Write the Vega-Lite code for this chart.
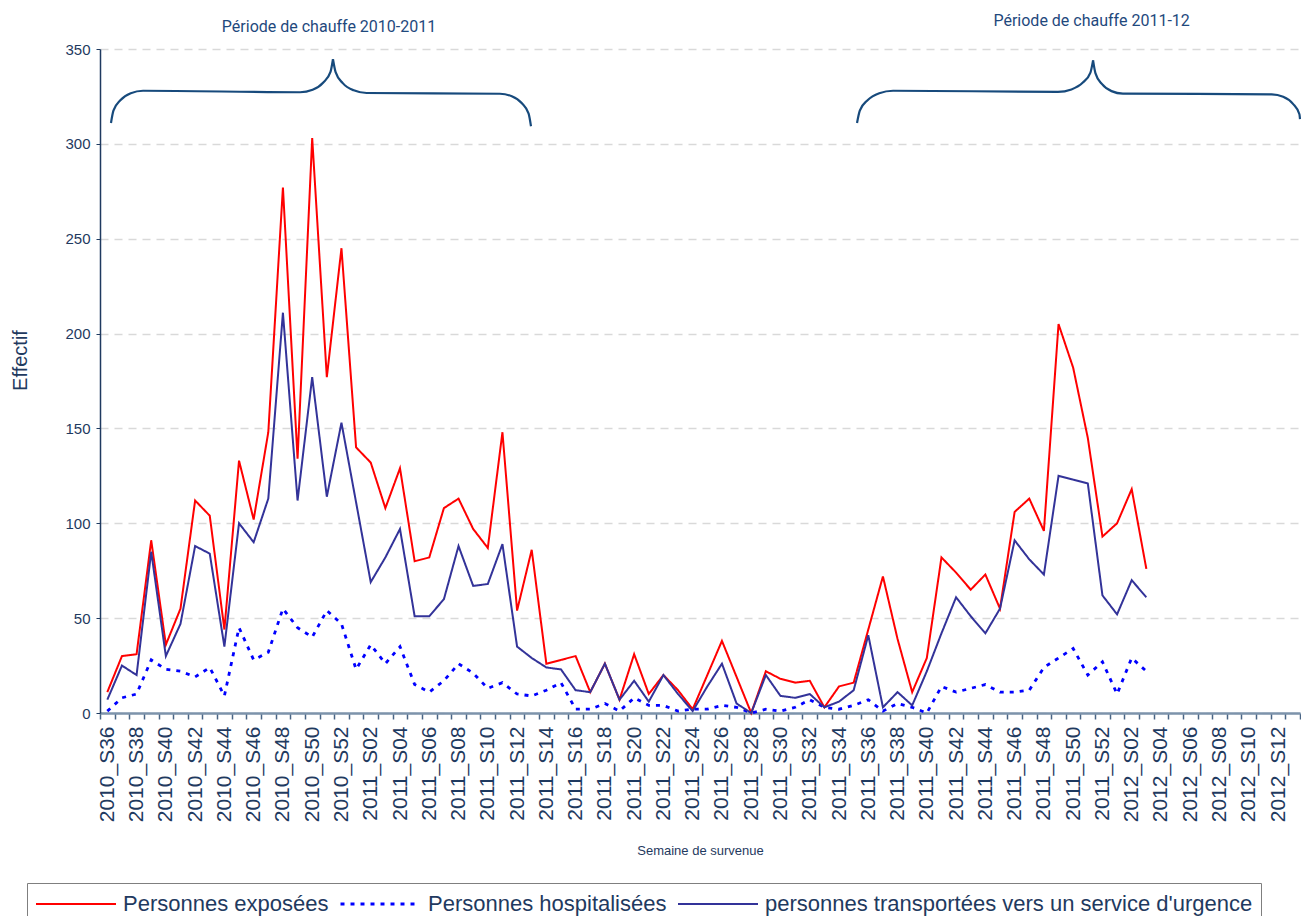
{
  "$schema": "https://vega.github.io/schema/vega-lite/v6.json",
  "width": 1200,
  "height": 664,
  "autosize": {"type": "none"},
  "padding": {"left": 100, "top": 49, "right": 1, "bottom": 203},
  "background": "white",
  "config": {"view": {"stroke": null}, "font": "Liberation Sans"},
  "resolve": {"scale": {"x": "independent"}},
  "layer": [
    {
      "data": {"values": [
        {"semaine":"2010_S36","E":11,"H":1,"T":7},
        {"semaine":"2010_S37","E":30,"H":8,"T":25},
        {"semaine":"2010_S38","E":31,"H":10,"T":20},
        {"semaine":"2010_S39","E":91,"H":28,"T":85},
        {"semaine":"2010_S40","E":36,"H":23,"T":30},
        {"semaine":"2010_S41","E":55,"H":22,"T":47},
        {"semaine":"2010_S42","E":112,"H":19,"T":88},
        {"semaine":"2010_S43","E":104,"H":24,"T":84},
        {"semaine":"2010_S44","E":44,"H":9,"T":35},
        {"semaine":"2010_S45","E":133,"H":45,"T":100},
        {"semaine":"2010_S46","E":102,"H":28,"T":90},
        {"semaine":"2010_S47","E":148,"H":32,"T":113},
        {"semaine":"2010_S48","E":277,"H":55,"T":211},
        {"semaine":"2010_S49","E":134,"H":45,"T":112},
        {"semaine":"2010_S50","E":303,"H":40,"T":177},
        {"semaine":"2010_S51","E":177,"H":54,"T":114},
        {"semaine":"2010_S52","E":245,"H":47,"T":153},
        {"semaine":"2011_S01","E":140,"H":23,"T":111},
        {"semaine":"2011_S02","E":132,"H":36,"T":69},
        {"semaine":"2011_S03","E":108,"H":26,"T":82},
        {"semaine":"2011_S04","E":129,"H":35,"T":97},
        {"semaine":"2011_S05","E":80,"H":15,"T":51},
        {"semaine":"2011_S06","E":82,"H":11,"T":51},
        {"semaine":"2011_S07","E":108,"H":17,"T":60},
        {"semaine":"2011_S08","E":113,"H":26,"T":88},
        {"semaine":"2011_S09","E":97,"H":21,"T":67},
        {"semaine":"2011_S10","E":87,"H":13,"T":68},
        {"semaine":"2011_S11","E":148,"H":16,"T":89},
        {"semaine":"2011_S12","E":54,"H":10,"T":35},
        {"semaine":"2011_S13","E":86,"H":9,"T":29},
        {"semaine":"2011_S14","E":26,"H":12,"T":24},
        {"semaine":"2011_S15","E":28,"H":16,"T":23},
        {"semaine":"2011_S16","E":30,"H":2,"T":12},
        {"semaine":"2011_S17","E":11,"H":2,"T":11},
        {"semaine":"2011_S18","E":26,"H":5,"T":26},
        {"semaine":"2011_S19","E":7,"H":1,"T":7},
        {"semaine":"2011_S20","E":31,"H":8,"T":17},
        {"semaine":"2011_S21","E":10,"H":4,"T":6},
        {"semaine":"2011_S22","E":20,"H":4,"T":20},
        {"semaine":"2011_S23","E":12,"H":1,"T":10},
        {"semaine":"2011_S24","E":2,"H":2,"T":1},
        {"semaine":"2011_S25","E":20,"H":2,"T":14},
        {"semaine":"2011_S26","E":38,"H":4,"T":26},
        {"semaine":"2011_S27","E":19,"H":3,"T":5},
        {"semaine":"2011_S28","E":0,"H":0,"T":0},
        {"semaine":"2011_S29","E":22,"H":2,"T":20},
        {"semaine":"2011_S30","E":18,"H":1,"T":9},
        {"semaine":"2011_S31","E":16,"H":3,"T":8},
        {"semaine":"2011_S32","E":17,"H":7,"T":10},
        {"semaine":"2011_S33","E":3,"H":3,"T":3},
        {"semaine":"2011_S34","E":14,"H":2,"T":6},
        {"semaine":"2011_S35","E":16,"H":4,"T":12},
        {"semaine":"2011_S36","E":44,"H":7,"T":41},
        {"semaine":"2011_S37","E":72,"H":1,"T":3},
        {"semaine":"2011_S38","E":39,"H":5,"T":11},
        {"semaine":"2011_S39","E":11,"H":3,"T":4},
        {"semaine":"2011_S40","E":29,"H":0,"T":22},
        {"semaine":"2011_S41","E":82,"H":14,"T":42},
        {"semaine":"2011_S42","E":74,"H":11,"T":61},
        {"semaine":"2011_S43","E":65,"H":13,"T":51},
        {"semaine":"2011_S44","E":73,"H":15,"T":42},
        {"semaine":"2011_S45","E":55,"H":11,"T":55},
        {"semaine":"2011_S46","E":106,"H":11,"T":91},
        {"semaine":"2011_S47","E":113,"H":12,"T":81},
        {"semaine":"2011_S48","E":96,"H":24,"T":73},
        {"semaine":"2011_S49","E":205,"H":29,"T":125},
        {"semaine":"2011_S50","E":182,"H":34,"T":123},
        {"semaine":"2011_S51","E":145,"H":20,"T":121},
        {"semaine":"2011_S52","E":93,"H":27,"T":62},
        {"semaine":"2012_S01","E":100,"H":10,"T":52},
        {"semaine":"2012_S02","E":118,"H":29,"T":70},
        {"semaine":"2012_S03","E":76,"H":22,"T":61}
      ]},
      "transform": [{"fold": ["E", "H", "T"], "as": ["serie", "effectif"]}],
      "mark": {"type": "line"},
      "encoding": {
        "x": {
          "field": "semaine", "type": "ordinal", "bandPosition": 0.5,
          "scale": {"type": "band", "paddingInner": 0, "paddingOuter": 0,
            "domain": ["2010_S36","2010_S37","2010_S38","2010_S39","2010_S40","2010_S41","2010_S42","2010_S43","2010_S44","2010_S45","2010_S46","2010_S47","2010_S48","2010_S49","2010_S50","2010_S51","2010_S52",
              "2011_S01","2011_S02","2011_S03","2011_S04","2011_S05","2011_S06","2011_S07","2011_S08","2011_S09","2011_S10","2011_S11","2011_S12","2011_S13","2011_S14","2011_S15","2011_S16","2011_S17","2011_S18","2011_S19","2011_S20","2011_S21","2011_S22","2011_S23","2011_S24","2011_S25","2011_S26","2011_S27","2011_S28","2011_S29","2011_S30","2011_S31","2011_S32","2011_S33","2011_S34","2011_S35","2011_S36","2011_S37","2011_S38","2011_S39","2011_S40","2011_S41","2011_S42","2011_S43","2011_S44","2011_S45","2011_S46","2011_S47","2011_S48","2011_S49","2011_S50","2011_S51","2011_S52",
              "2012_S01","2012_S02","2012_S03","2012_S04","2012_S05","2012_S06","2012_S07","2012_S08","2012_S09","2012_S10","2012_S11","2012_S12","2012_S13"]},
          "axis": {
            "title": "Semaine de survenue", "titleFontSize": 13, "titleFontWeight": "normal", "titleColor": "#1F3A60",
            "titleY": 137, "titleBaseline": "middle",
            "labelAngle": -90, "labelAlign": "right", "labelBaseline": "middle",
            "labelFontSize": 21, "labelColor": "#1F3A60", "labelPadding": 7, "labelOverlap": false,
            "labelExpr": "toNumber(substring(datum.label, 6)) % 2 == 0 ? datum.label : ''",
            "tickBand": "extent", "tickSize": 6, "tickColor": "#4a6585", "tickWidth": 1.5,
            "domainColor": "#7d93ab", "domainWidth": 2.5, "grid": false
          }
        },
        "y": {
          "field": "effectif", "type": "quantitative",
          "scale": {"domain": [0, 350], "nice": false},
          "axis": {
            "title": "Effectif", "titleFontSize": 20, "titleFontWeight": "normal", "titleColor": "#1F3A60",
            "titleX": -80, "titleY": 311, "titleBaseline": "middle", "titleAngle": -90,
            "values": [0, 50, 100, 150, 200, 250, 300, 350],
            "labelFontSize": 15, "labelColor": "#1F3A60", "labelPadding": 6, "tickSize": 4,
            "tickColor": "#1F3A60", "domainColor": "#1F3A60", "domainWidth": 1.5,
            "gridColor": "#d9d9d9", "gridDash": [8, 6], "gridWidth": 1.5
          }
        },
        "color": {
          "field": "serie", "type": "nominal",
          "scale": {"domain": ["E", "H", "T"], "range": ["#FF0000", "#0000FF", "#333399"]},
          "legend": {
            "title": null, "orient": "none", "legendX": -73, "legendY": 834, "direction": "horizontal",
            "symbolType": "stroke", "symbolSize": 6400,
            "labelFontSize": 22, "labelColor": "#1F3A60", "labelLimit": 700, "labelOffset": 6,
            "columnPadding": 10, "padding": 8, "strokeColor": "#7f7f7f", "clipHeight": 26,
            "labelExpr": "datum.label == 'E' ? 'Personnes exposées' : datum.label == 'H' ? 'Personnes hospitalisées' : \"personnes transportées vers un service d'urgence\""
          }
        },
        "strokeDash": {
          "field": "serie", "type": "nominal",
          "scale": {"domain": ["E", "H", "T"], "range": [[1, 0], [4, 6], [1, 0]]},
          "legend": {
            "title": null, "orient": "none", "legendX": -73, "legendY": 834, "direction": "horizontal",
            "symbolType": "stroke", "symbolSize": 6400,
            "labelFontSize": 22, "labelColor": "#1F3A60", "labelLimit": 700, "labelOffset": 6,
            "columnPadding": 10, "padding": 8, "strokeColor": "#7f7f7f", "clipHeight": 26,
            "labelExpr": "datum.label == 'E' ? 'Personnes exposées' : datum.label == 'H' ? 'Personnes hospitalisées' : \"personnes transportées vers un service d'urgence\""
          }
        },
        "strokeWidth": {
          "field": "serie", "type": "nominal",
          "scale": {"type": "ordinal", "domain": ["E", "H", "T"], "range": [2, 2.8, 2]},
          "legend": {
            "title": null, "orient": "none", "legendX": -73, "legendY": 834, "direction": "horizontal",
            "symbolType": "stroke", "symbolSize": 6400,
            "labelFontSize": 22, "labelColor": "#1F3A60", "labelLimit": 700, "labelOffset": 6,
            "columnPadding": 10, "padding": 8, "strokeColor": "#7f7f7f", "clipHeight": 26,
            "labelExpr": "datum.label == 'E' ? 'Personnes exposées' : datum.label == 'H' ? 'Personnes hospitalisées' : \"personnes transportées vers un service d'urgence\""
          }
        }
      }
    },
    {
      "data": {"values": [
        {"brace":"1L","u":0.75,"v":311},{"brace":"1L","u":0.917,"v":317.5},{"brace":"1L","u":1.39,"v":323.0},{"brace":"1L","u":2.10,"v":326.7},{"brace":"1L","u":2.94,"v":328},{"brace":"1L","u":13.67,"v":327.2},{"brace":"1L","u":14.53,"v":328.5},{"brace":"1L","u":15.26,"v":332.3},{"brace":"1L","u":15.75,"v":337.9},{"brace":"1L","u":15.92,"v":344.6},
        {"brace":"1R","u":15.92,"v":344.6},{"brace":"1R","u":16.10,"v":337.8},{"brace":"1R","u":16.59,"v":332.0},{"brace":"1R","u":17.34,"v":328.2},{"brace":"1R","u":18.22,"v":326.8},{"brace":"1R","u":27.33,"v":326.4},{"brace":"1R","u":28.14,"v":325.1},{"brace":"1R","u":28.83,"v":321.4},{"brace":"1R","u":29.29,"v":315.9},{"brace":"1R","u":29.45,"v":309.3},
        {"brace":"2L","u":51.73,"v":311},{"brace":"2L","u":51.92,"v":317.5},{"brace":"2L","u":52.45,"v":323.0},{"brace":"2L","u":53.25,"v":326.7},{"brace":"2L","u":54.19,"v":328},{"brace":"2L","u":65.46,"v":327.4},{"brace":"2L","u":66.38,"v":328.7},{"brace":"2L","u":67.16,"v":332.3},{"brace":"2L","u":67.68,"v":337.6},{"brace":"2L","u":67.86,"v":344},
        {"brace":"2R","u":67.86,"v":344},{"brace":"2R","u":68.02,"v":337.3},{"brace":"2R","u":68.46,"v":331.6},{"brace":"2R","u":69.12,"v":327.8},{"brace":"2R","u":69.9,"v":326.5},{"brace":"2R","u":80.07,"v":326.1},{"brace":"2R","u":80.85,"v":324.8},{"brace":"2R","u":81.52,"v":321.1},{"brace":"2R","u":81.96,"v":315.6},{"brace":"2R","u":82.0,"v":313}
      ]},
      "mark": {"type": "line", "interpolate": "monotone", "color": "#174a7c", "strokeWidth": 2.2},
      "encoding": {
        "x": {"field": "u", "type": "quantitative", "scale": {"domain": [0, 82], "nice": false, "zero": false}, "axis": null},
        "y": {"field": "v", "type": "quantitative", "scale": {"domain": [0, 350], "nice": false}},
        "detail": {"field": "brace", "type": "nominal"},
        "order": {"field": "u", "type": "quantitative"}
      }
    },
    {
      "data": {"values": [
        {"u": 15.65, "v": 361.6, "label": "Période de chauffe 2010-2011"},
        {"u": 67.76, "v": 364.9, "label": "Période de chauffe 2011-12"}
      ]},
      "mark": {"type": "text", "font": "Roboto", "fontSize": 16, "color": "#1F497D", "baseline": "middle", "align": "center"},
      "encoding": {
        "x": {"field": "u", "type": "quantitative", "scale": {"domain": [0, 82], "nice": false, "zero": false}, "axis": null},
        "y": {"field": "v", "type": "quantitative", "scale": {"domain": [0, 350], "nice": false}},
        "text": {"field": "label", "type": "nominal"}
      }
    }
  ]
}
